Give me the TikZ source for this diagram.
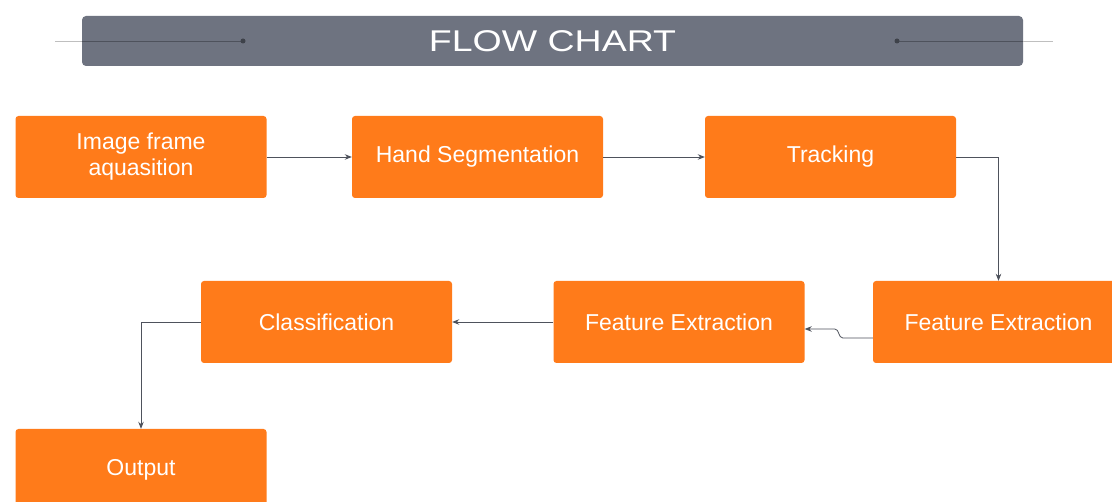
\documentclass[tikz,border=0pt]{standalone}
\usepackage{fontspec}
\setmainfont{Liberation Sans}
\usetikzlibrary{arrows.meta}
\definecolor{boxorange}{HTML}{FF7B1A}
\definecolor{bargray}{HTML}{6E7380}
\definecolor{linegray}{HTML}{4E525C}
\tikzset{>={Stealth[length=7pt,width=5.5pt]}}
\tikzset{stage/.style={fill=boxorange, rounded corners=3pt, minimum width=251pt, minimum height=82pt,
    inner sep=0pt, text=white, align=center, font=\fontsize{23}{26}\selectfont},
  arr/.style={->, linegray, line width=0.8pt}}

\begin{document}
\begin{tikzpicture}[x=1pt, y=-1pt]
\clip (0,0) rectangle (1112,502);
\fill[white] (0,0) rectangle (1112,502);
% title bar
\node[fill=bargray, rounded corners=4pt, minimum width=941pt, minimum height=50pt, inner sep=0pt,
  text=white, font=\fontsize{30}{30}\selectfont] (title) at (552.5,41) {\scalebox{1.25}[1]{FLOW CHART}};
\draw[gray!50, line width=0.8pt] (55,41) -- (title.west |- 0,41) (title.east |- 0,41) -- (1053,41);
\draw[linegray, line width=0.8pt] (title.west |- 0,41) -- (243,41) (897,41) -- (title.east |- 0,41);
\foreach \x in {243,897}
\fill[linegray!80!black] (\x,41) circle (2.5pt);
% stages
\node[stage] (img) at (141,157) {Image frame\\aquasition};
\node[stage] (seg) at (477.5,157) {Hand Segmentation};
\node[stage] (track) at (830.5,157) {Tracking};
\node[stage] (featA) at (998.5,322) {Feature Extraction};
\node[stage] (featB) at (679,322) {Feature Extraction};
\node[stage] (cls) at (326.5,322) {Classification};
\node[stage] (out) at (141,470) {Output};
% connectors
\draw[arr] (img) -- (seg);
\draw[arr] (seg) -- (track);
\draw[arr] (track.east) -| (featA.north);
\draw[arr] ([yshift=-16pt]featA.west) -- ++(-30,0) to[out=180,in=0] ++(-8,-9) -- ([yshift=-7pt]featB.east);
\draw[arr] (featB) -- (cls);
\draw[arr] (cls.west) -| (out.north);
\end{tikzpicture}
\end{document}
